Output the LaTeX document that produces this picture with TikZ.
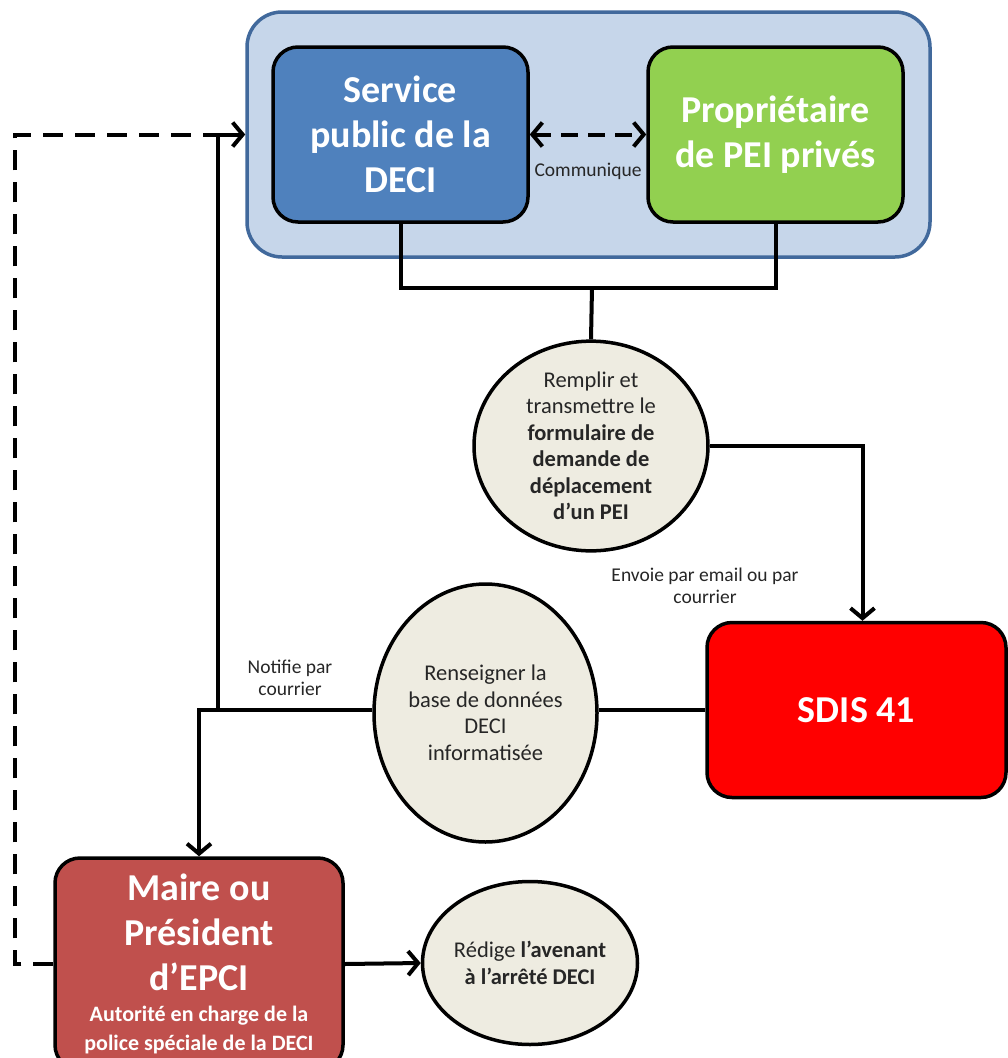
\documentclass[tikz,border=0pt]{standalone}
\usepackage{fontspec}
\setmainfont{Carlito}
\usetikzlibrary{arrows.meta, positioning, shapes.geometric, calc}
\definecolor{cgroup}{HTML}{C6D6EA}
\definecolor{cgroupline}{HTML}{41699C}
\definecolor{cblue}{HTML}{4F81BD}
\definecolor{cgreen}{HTML}{92D050}
\definecolor{cred}{HTML}{FF0000}
\definecolor{cbrick}{HTML}{C0504D}
\definecolor{cbeige}{HTML}{EEECE1}
\definecolor{ctext}{HTML}{262626}
\newcommand\smallline{\fontsize{22}{27}\selectfont}
\tikzset{
  every picture/.style={line width=4pt},
  box/.style={draw=black, fill=#1, rounded corners=25pt, align=center, text=white,
    font=\fontsize{38}{45}\selectfont\bfseries, line width=3.5pt, inner sep=0pt},
  box/.default=cblue,
  bubble/.style={ellipse, draw=black, fill=cbeige, align=center, text=ctext, line width=3.5pt,
    inner sep=0pt, font=\fontsize{22.5}{26.5}\selectfont},
  arrow/.style={-{Straight Barb[length=10pt, width=24pt, line width=4pt]}, draw=black},
  link/.style={draw=black},
  dashlink/.style={draw=black, dash pattern=on 20pt off 12pt},
  note/.style={font=\fontsize{19.5}{22}\selectfont, text=ctext, align=center},
}
\begin{document}
\begin{tikzpicture}[x=1pt, y=-1pt]
  \useasboundingbox (0,0) rectangle (1008,1058);
  % top group
  \node[draw=cgroupline, fill=cgroup, rounded corners=35pt, line width=3.5pt,
    minimum width=683pt, minimum height=245pt] (grp) at (588.5,134.5) {};
  \node[box=cblue, minimum width=255pt, minimum height=175pt] (svc) at (400.5,134.5) {Service\\public de la\\DECI};
  \node[box=cgreen, minimum width=255pt, minimum height=175pt] (prop) at (775.5,134.5) {Propriétaire\\de PEI privés};
  \draw[dashlink, {Straight Barb[length=10pt, width=24pt, line width=4pt]}-{Straight Barb[length=10pt, width=24pt, line width=4pt]}, dash pattern=on 17pt off 10pt]
    (svc.east) -- (prop.west);
  \node[note] (comm) at (588,171) {Communique};
  % form
  \coordinate (j1) at (592,288);
  \draw[link] (svc.south) |- (j1) -| (prop.south);
  \node[bubble, minimum width=234pt, minimum height=188pt] (ell1) at (591,446)
    {Remplir et\\transmettre le\\\textbf{formulaire de}\\\textbf{demande de}\\\textbf{déplacement}\\\textbf{d’un PEI}};
  \draw[link] (j1) -- (ell1.north);
  % SDIS
  \node[box=cred, minimum width=299pt, minimum height=175pt] (sdis) at (856.5,710) {SDIS 41};
  \draw[arrow] (ell1.east) -| ([xshift=6pt]sdis.north);
  \node[note] (envoi) at (705,586) {Envoie par email ou par\\courrier};
  \node[bubble, minimum width=223pt, minimum height=258pt] (ell2) at (485.5,713)
    {Renseigner la\\base de données\\DECI\\informatisée};
  \draw[link] (sdis.west) -- (sdis.west -| ell2.east);
  % mayor
  \node[box=cbrick, minimum width=288pt, minimum height=212pt] (maire) at (199,964) {};
  \node[box=cbrick, draw=none, fill=none, anchor=north] (mairetxt) at (199,872)
    {Maire ou\\Président\\d’EPCI\\[0pt]{\smallline\begin{tabular}{@{}c@{}}Autorité en charge de la\\[2pt]police spéciale de la DECI\end{tabular}}};
  \draw[arrow] (ell2.west |- sdis.west) -| (maire.north);
  \coordinate (up) at (218,710);
  \draw[arrow] (up) |- (grp.west);
  \coordinate (loop) at (15,134.5);
  \draw[dashlink] (maire.west) -| (loop) -- (up |- grp.west);
  \node[note] (notif) at (290,678) {Notifie par\\courrier};
  \node[bubble, minimum width=208pt, minimum height=163pt] (ell3) at (530,963)
    {Rédige \textbf{l’avenant}\\\textbf{à l’arrêté DECI}};
  \draw[arrow] (maire.east) -- (ell3.west);
\end{tikzpicture}
\end{document}
